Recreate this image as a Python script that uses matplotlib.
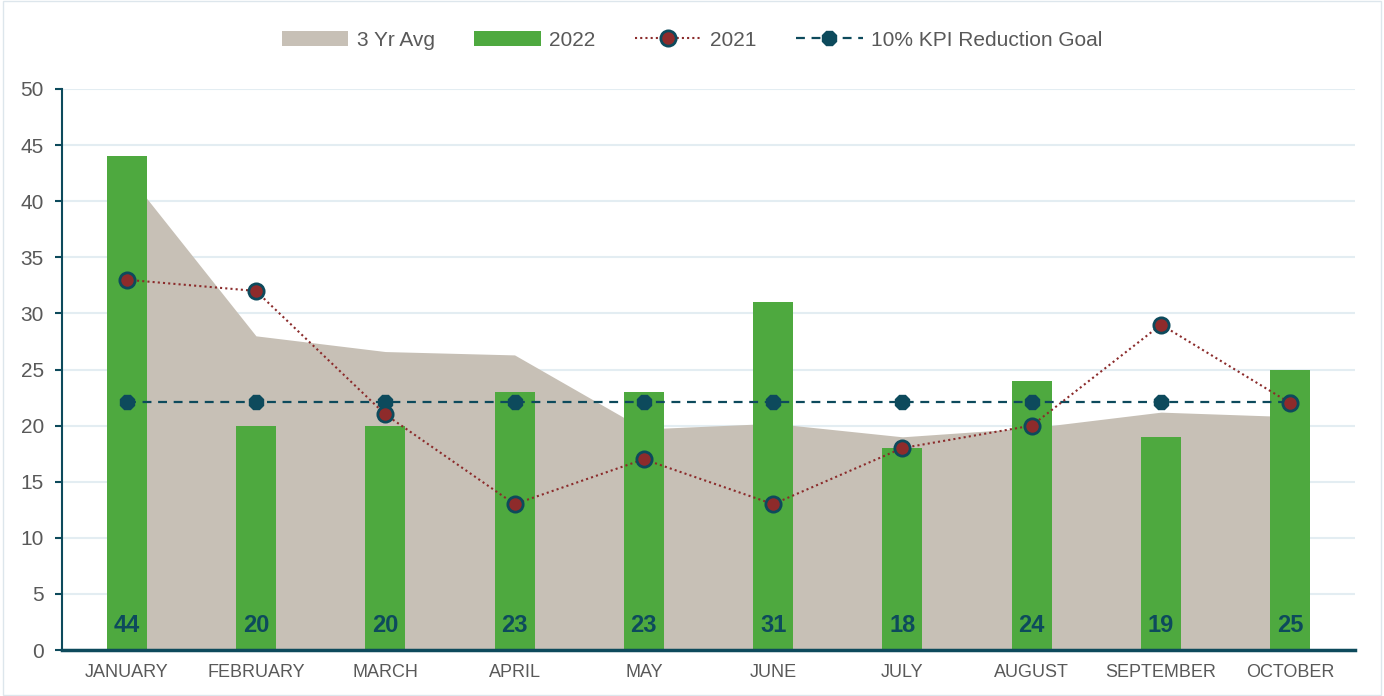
import matplotlib.pyplot as plt
import numpy as np
from matplotlib.patches import Rectangle

plt.rcParams['font.family'] = ['Liberation Sans', 'DejaVu Sans']

months = ["JANUARY", "FEBRUARY", "MARCH", "APRIL", "MAY", "JUNE",
          "JULY", "AUGUST", "SEPTEMBER", "OCTOBER"]
avg3 = [42.5, 28.0, 26.6, 26.3, 19.7, 20.2, 19.0, 19.8, 21.2, 20.8]
y2022 = [44, 20, 20, 23, 23, 31, 18, 24, 19, 25]
y2021 = [33, 32, 21, 13, 17, 13, 18, 20, 29, 22]
goal = [22.1] * 10

teal = "#0d4a5c"
x = np.arange(len(months))

fig = plt.figure(figsize=(13.84, 6.96), dpi=100)
ax = fig.add_axes([62 / 1384, 46 / 696, 1293 / 1384, 561 / 696])

h_area = ax.fill_between(x, avg3, 0, color="#c7c0b6", lw=0, zorder=1, label="3 Yr Avg")
h_bar = ax.bar(x, y2022, width=0.31, color="#4ea93f", zorder=2, label="2022")
h_21, = ax.plot(x, y2021, ls=(0, (1, 1.5)), color="#8b2b2b", lw=1.5, marker="o",
                markersize=11, markerfacecolor="#8e2b2b", markeredgecolor=teal,
                markeredgewidth=2, zorder=4, label="2021")
h_goal, = ax.plot(x, goal, ls=(0, (4, 3)), color=teal, lw=1.6, marker="8",
                  markersize=11, markerfacecolor=teal, markeredgecolor=teal,
                  zorder=3, label="10% KPI Reduction Goal")

for xi, v in zip(x, y2022):
    ax.text(xi, 2.2, str(v), ha="center", va="center", fontsize=17,
            fontweight="bold", color=teal, zorder=5)

ax.set_xlim(-0.5, len(months) - 0.5)
ax.set_ylim(0, 50)
ax.set_yticks(range(0, 51, 5))
ax.set_xticks(x)
ax.set_xticklabels(months)
ax.grid(axis="y", color="#e3edf2", lw=1.5, zorder=0)
ax.set_axisbelow(True)

for s in ["top", "right"]:
    ax.spines[s].set_visible(False)
ax.spines["left"].set_color(teal)
ax.spines["left"].set_linewidth(1.5)
ax.spines["bottom"].set_color(teal)
ax.spines["bottom"].set_linewidth(2.5)
ax.tick_params(axis="y", colors=teal, length=5, width=1.5, labelsize=15,
               labelcolor="#595959", pad=8)
ax.tick_params(axis="x", length=0, labelsize=13, labelcolor="#595959", pad=10)

fig.legend([h_area, h_bar, h_21, h_goal],
           ["3 Yr Avg", "2022", "2021", "10% KPI Reduction Goal"],
           loc="center", bbox_to_anchor=(0.5, 1 - 40 / 696), ncol=4,
           frameon=False, fontsize=15, labelcolor="#595959",
           handlelength=3.2, columnspacing=1.9, handletextpad=0.4)

fig.patches.append(Rectangle((0.002, 0.002), 0.996, 0.996, transform=fig.transFigure,
                             fill=False, edgecolor="#dde6ec", lw=1))

fig.savefig("out.png", dpi=100)
